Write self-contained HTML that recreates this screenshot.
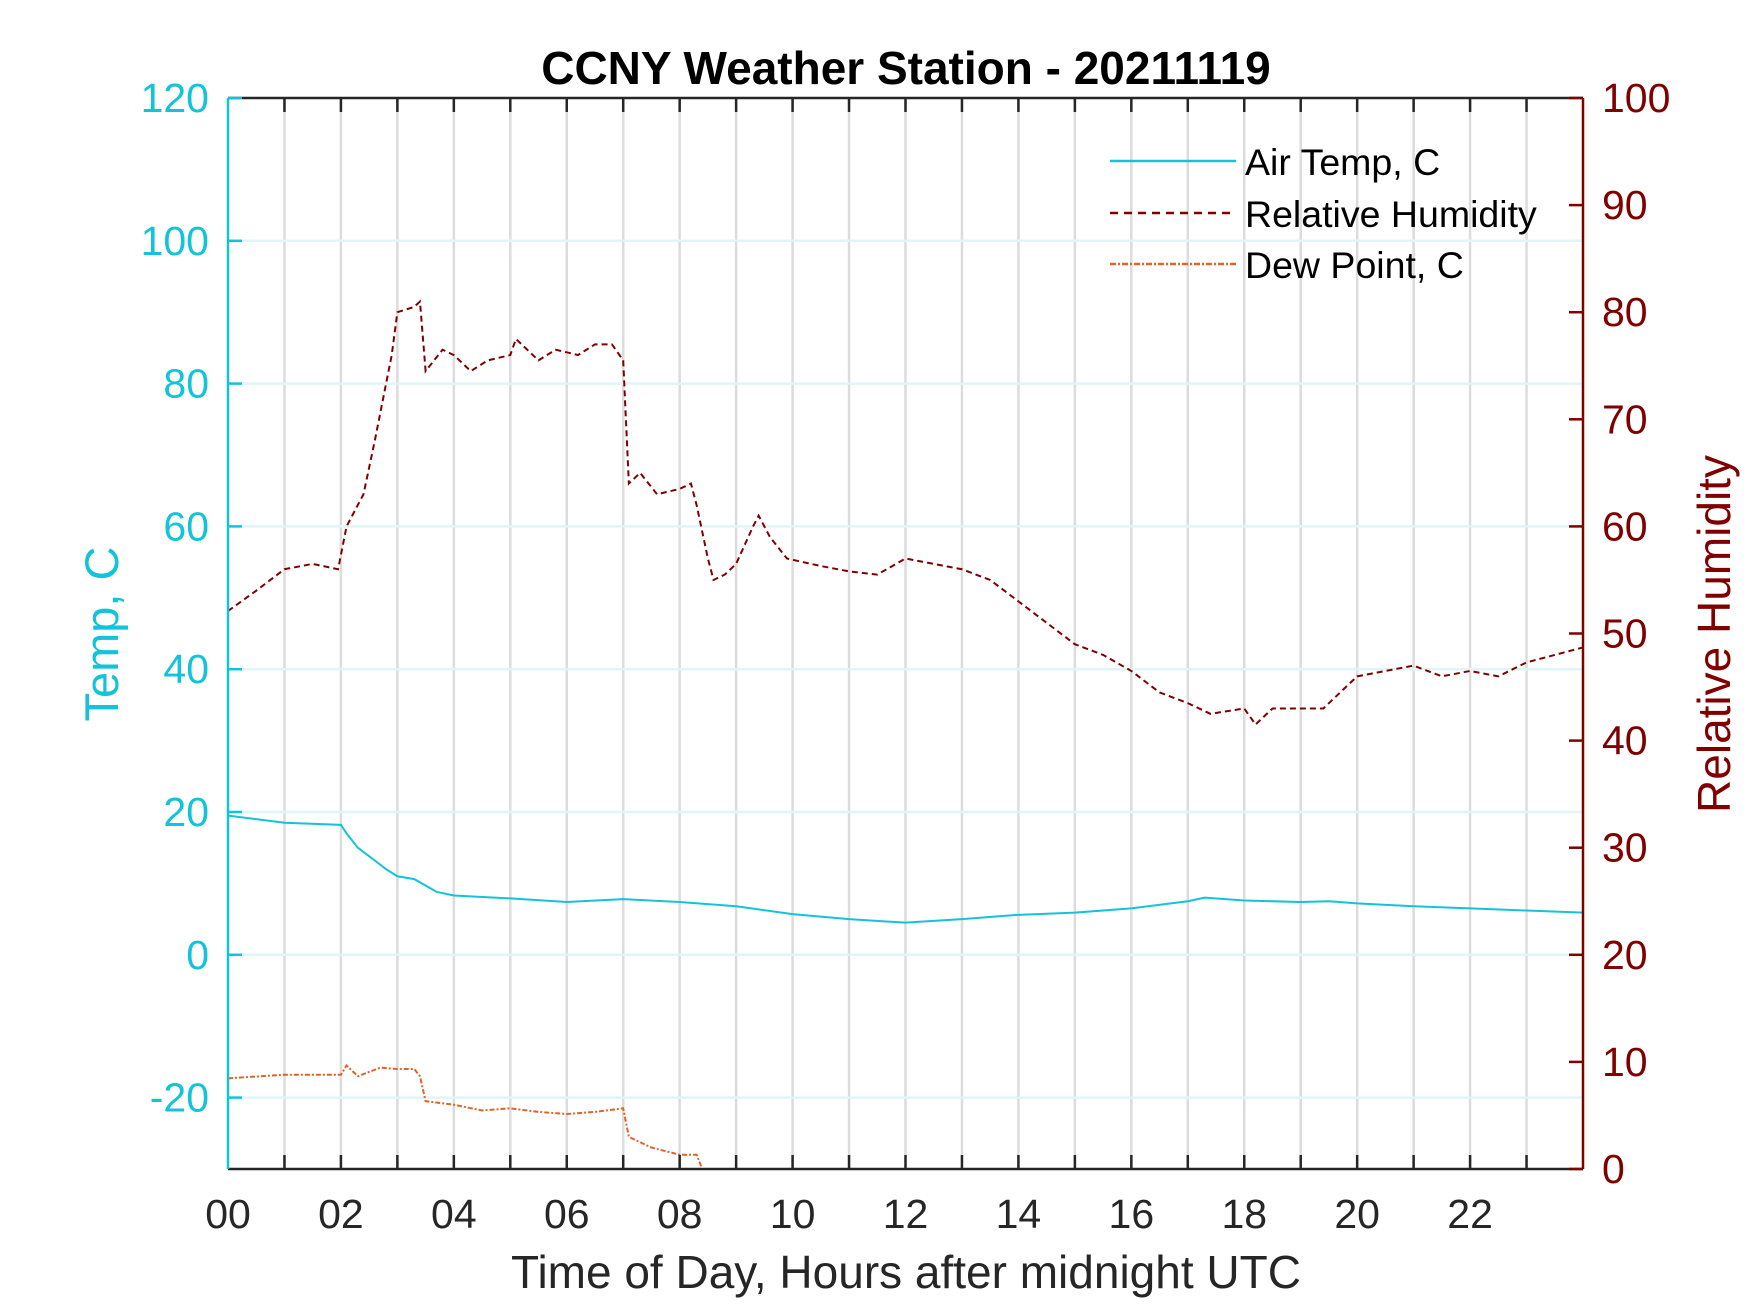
<!DOCTYPE html>
<html><head><meta charset="utf-8"><style>
body{margin:0;background:#fff}
svg{display:block;font-family:"Liberation Sans",Arial,sans-serif}
</style></head><body>
<svg id="chart" width="1750" height="1313" viewBox="0 0 1750 1313">
<rect width="1750" height="1313" fill="#fff"/>
<g id="grid"></g>
<g id="series"></g>
<g id="axes"></g>
<text x="906" y="84" text-anchor="middle" font-size="46" font-weight="bold" fill="#000">CCNY Weather Station - 20211119</text>
<text x="906" y="1288" text-anchor="middle" font-size="46" fill="#262626">Time of Day, Hours after midnight UTC</text>
<text transform="translate(118,634) rotate(-90)" text-anchor="middle" font-size="47" fill="#13c3d9">Temp, C</text>
<text transform="translate(1730,634) rotate(-90)" text-anchor="middle" font-size="46" fill="#800000">Relative Humidity</text>
<g>
<line x1="1110" y1="161" x2="1236" y2="161" stroke="#13c3d9" stroke-width="2.5"/>
<text x="1245" y="175" font-size="37.5" fill="#000">Air Temp, C</text>
<line x1="1110" y1="213" x2="1236" y2="213" stroke="#800000" stroke-width="2.5" stroke-dasharray="8,6"/>
<text x="1245" y="227" font-size="37.5" fill="#000">Relative Humidity</text>
<line x1="1110" y1="264" x2="1236" y2="264" stroke="#e0642a" stroke-width="2.5" stroke-dasharray="6,2,2,2"/>
<text x="1245" y="278" font-size="37.5" fill="#000">Dew Point, C</text>
</g>
</svg>
<script>
const tempHours=[0,1,2,2.1,2.3,2.8,3.0,3.3,3.7,4,5,6,7,8,9,10,11,12,13,14,15,16,17,17.3,18,19,19.5,20,21,22,23,24];
const tempValues=[19.5,18.5,18.2,17,15,12,11,10.6,8.8,8.3,7.9,7.4,7.8,7.4,6.8,5.7,5,4.5,5,5.6,5.9,6.5,7.5,8,7.6,7.4,7.5,7.2,6.8,6.5,6.2,5.9];
const rhHours=[0,0.5,1,1.5,1.95,2.1,2.4,2.6,2.9,3.0,3.3,3.4,3.5,3.8,4.0,4.3,4.6,5.0,5.1,5.5,5.8,6.2,6.5,6.8,7.0,7.1,7.3,7.6,8.0,8.2,8.3,8.5,8.6,8.8,9.0,9.3,9.4,9.6,9.9,10.5,11,11.5,12,12.5,13,13.5,14,14.5,15,15.5,16,16.5,17,17.4,18,18.2,18.5,19,19.4,19.6,20,20.5,21,21.5,22,22.5,23,23.5,24];
const rhValues=[52.1,54,56,56.5,56,60,63,68,76,80,80.5,81,74.5,76.5,76,74.5,75.5,76,77.5,75.5,76.5,76,77,77,75.5,64,65,63,63.5,64,62,57,55,55.5,56.5,60,61,59,57,56.3,55.8,55.5,57,56.5,56,55,53,51,49,48,46.5,44.5,43.5,42.5,43,41.5,43,43,43,44,46,46.5,47,46,46.5,46,47.3,48,48.7];
const dewHours=[0,1,2,2.1,2.3,2.7,3.0,3.3,3.4,3.5,4,4.5,5,5.5,6,6.5,7,7.1,7.5,8,8.3,8.4];
const dewValues=[-17.3,-16.8,-16.8,-15.5,-17,-15.8,-16,-16,-17,-20.5,-21,-21.8,-21.5,-22,-22.3,-22,-21.5,-25.5,-27,-28,-28,-30];
const xTicks=[0,2,4,6,8,10,12,14,16,18,20,22];
const tempTicks=[-20,0,20,40,60,80,100,120];
const rhTicks=[0,10,20,30,40,50,60,70,80,90,100];

const L=228,R=1583,T=98,B=1169;
const x=h=>L+(R-L)*h/24;
const yT=v=>B-(B-T)*(v+30)/150;
const yR=v=>B-(B-T)*v/100;
const NS='http://www.w3.org/2000/svg';
function mk(tag,attrs,parent){const e=document.createElementNS(NS,tag);for(const k in attrs)e.setAttribute(k,attrs[k]);parent.appendChild(e);return e;}
const grid=document.getElementById('grid'),series=document.getElementById('series'),axes=document.getElementById('axes');
for(let h=1;h<24;h++){
  const g=mk('line',{x1:x(h),x2:x(h),y1:T,y2:B,stroke:'#dcdcdc','stroke-width':2.5},grid);
  
  
}
tempTicks.forEach(v=>{
  if(v===120)return;
  const g=mk('line',{x1:L,x2:R,y1:yT(v),y2:yT(v),stroke:'#dff5f8','stroke-width':2.5},grid);
  
  
});
const clip=mk('clipPath',{id:'pc'},series);mk('rect',{x:L,y:T,width:R-L,height:B-T},clip);
function line(hs,vs,fy,attrs,name){
  const p=mk('polyline',Object.assign({points:hs.map((h,i)=>x(h)+','+fy(vs[i])).join(' '),fill:'none','clip-path':'url(#pc)'},attrs),series);
  
  
}
line(tempHours,tempValues,yT,{stroke:'#13c3d9','stroke-width':2},'air-temp-line');
line(rhHours,rhValues,yR,{stroke:'#800000','stroke-width':2,'stroke-dasharray':'6,4'},'rh-line');
line(dewHours,dewValues,yT,{stroke:'#e0642a','stroke-width':2,'stroke-dasharray':'5,2,2,2'},'dew-point-line');
mk('line',{x1:L,x2:R,y1:T,y2:T,stroke:'#262626','stroke-width':2.5},axes);
mk('line',{x1:L,x2:R,y1:B,y2:B,stroke:'#262626','stroke-width':2.5},axes);
mk('line',{x1:L,x2:L,y1:T,y2:B,stroke:'#13c3d9','stroke-width':2.5},axes);
mk('line',{x1:R,x2:R,y1:T,y2:B,stroke:'#800000','stroke-width':2.5},axes);
for(let h=1;h<24;h++){
  mk('line',{x1:x(h),x2:x(h),y1:T,y2:T+14,stroke:'#262626','stroke-width':2.5},axes);
  mk('line',{x1:x(h),x2:x(h),y1:B,y2:B-14,stroke:'#262626','stroke-width':2.5},axes);
}
xTicks.forEach(h=>{
  const t=mk('text',{x:x(h),y:1228,'text-anchor':'middle','font-size':41,fill:'#262626'},axes);
  t.textContent=String(h).padStart(2,'0');
  
  
});
tempTicks.forEach(v=>{
  mk('line',{x1:L,x2:L+14,y1:yT(v),y2:yT(v),stroke:'#13c3d9','stroke-width':2.5},axes);
  const t=mk('text',{x:209,y:yT(v)+14,'text-anchor':'end','font-size':41,fill:'#13c3d9'},axes);
  t.textContent=v;
  
  
});
rhTicks.forEach(v=>{
  mk('line',{x1:R-14,x2:R,y1:yR(v),y2:yR(v),stroke:'#800000','stroke-width':2.5},axes);
  const t=mk('text',{x:1602,y:yR(v)+14,'text-anchor':'start','font-size':41,fill:'#800000'},axes);
  t.textContent=v;
  
  
});
</script>
</body></html>
